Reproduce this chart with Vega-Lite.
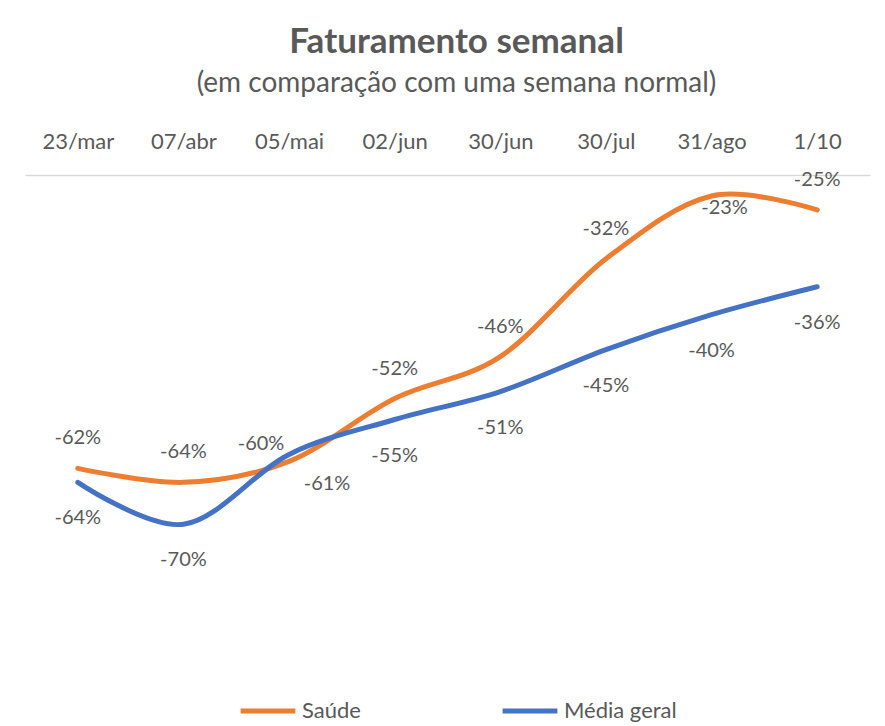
{
  "$schema": "https://vega.github.io/schema/vega-lite/v6.json",
  "width": 845,
  "height": 489,
  "autosize": {"type": "none"},
  "padding": {"left": 25, "top": 175, "right": 15, "bottom": 62},
  "background": "white",
  "config": {
    "view": {"stroke": null},
    "locale": {"number": {"decimal": ",", "thousands": ".", "grouping": [3], "currency": ["R$", ""], "minus": "-", "percent": "%"}}
  },
  "title": {
    "text": "Faturamento semanal",
    "subtitle": "(em comparação com uma semana normal)",
    "font": "Lato",
    "fontSize": 35,
    "fontWeight": "bold",
    "color": "#595959",
    "subtitleFont": "Lato",
    "subtitleFontSize": 28,
    "subtitleColor": "#595959",
    "anchor": "middle",
    "offset": 32,
    "subtitlePadding": 10,
    "dx": 9
  },
  "data": {
    "values": [
      {"semana": "23/mar", "serie": "Saúde", "valor": -0.62},
      {"semana": "07/abr", "serie": "Saúde", "valor": -0.64},
      {"semana": "05/mai", "serie": "Saúde", "valor": -0.61},
      {"semana": "02/jun", "serie": "Saúde", "valor": -0.52},
      {"semana": "30/jun", "serie": "Saúde", "valor": -0.46},
      {"semana": "30/jul", "serie": "Saúde", "valor": -0.32},
      {"semana": "31/ago", "serie": "Saúde", "valor": -0.23},
      {"semana": "1/10", "serie": "Saúde", "valor": -0.25},
      {"semana": "23/mar", "serie": "Média geral", "valor": -0.64},
      {"semana": "07/abr", "serie": "Média geral", "valor": -0.70},
      {"semana": "05/mai", "serie": "Média geral", "valor": -0.60},
      {"semana": "02/jun", "serie": "Média geral", "valor": -0.55},
      {"semana": "30/jun", "serie": "Média geral", "valor": -0.51},
      {"semana": "30/jul", "serie": "Média geral", "valor": -0.45},
      {"semana": "31/ago", "serie": "Média geral", "valor": -0.40},
      {"semana": "1/10", "serie": "Média geral", "valor": -0.36}
    ]
  },
  "encoding": {
    "x": {
      "field": "semana",
      "type": "ordinal",
      "sort": null,
      "scale": {"padding": 0.5},
      "axis": {
        "orient": "top",
        "title": null,
        "labelAngle": 0,
        "ticks": false,
        "grid": false,
        "domainColor": "#d9d9d9",
        "domainWidth": 1.5,
        "labelFont": "Lato",
        "labelFontSize": 22,
        "labelColor": "#595959",
        "labelPadding": 22
      }
    },
    "y": {
      "field": "valor",
      "type": "quantitative",
      "scale": {"domain": [-0.9, -0.2], "nice": false, "zero": false},
      "axis": null
    }
  },
  "layer": [
    {
      "mark": {"type": "line", "interpolate": "cardinal", "strokeWidth": 5, "strokeCap": "round"},
      "encoding": {
        "color": {
          "field": "serie",
          "type": "nominal",
          "scale": {"domain": ["Saúde", "Média geral"], "range": ["#ED7D31", "#4472C4"]},
          "legend": {
            "title": null,
            "orient": "none",
            "direction": "horizontal",
            "legendX": 213,
            "legendY": 506,
            "symbolType": "stroke",
            "symbolStrokeWidth": 5,
            "symbolSize": 3000,
            "labelFont": "Lato",
            "labelFontSize": 22,
            "labelColor": "#595959",
            "labelOffset": 4,
            "columnPadding": 131
          }
        }
      }
    },
    {
      "transform": [{"filter": "datum.serie === 'Saúde' && datum.semana !== '05/mai' && datum.semana !== '31/ago'"}],
      "mark": {"type": "text", "dy": -30, "font": "Lato", "fontSize": 20, "color": "#595959"},
      "encoding": {"text": {"field": "valor", "type": "quantitative", "format": ".0%"}}
    },
    {
      "transform": [{"filter": "datum.serie === 'Saúde' && datum.semana === '05/mai'"}],
      "mark": {"type": "text", "dx": 38, "dy": 23, "font": "Lato", "fontSize": 20, "color": "#595959"},
      "encoding": {"text": {"field": "valor", "type": "quantitative", "format": ".0%"}}
    },
    {
      "transform": [{"filter": "datum.serie === 'Saúde' && datum.semana === '31/ago'"}],
      "mark": {"type": "text", "dx": 13, "dy": 12, "font": "Lato", "fontSize": 20, "color": "#595959"},
      "encoding": {"text": {"field": "valor", "type": "quantitative", "format": ".0%"}}
    },
    {
      "transform": [{"filter": "datum.serie === 'Média geral' && datum.semana !== '05/mai'"}],
      "mark": {"type": "text", "dy": 36, "font": "Lato", "fontSize": 20, "color": "#595959"},
      "encoding": {"text": {"field": "valor", "type": "quantitative", "format": ".0%"}}
    },
    {
      "transform": [{"filter": "datum.serie === 'Média geral' && datum.semana === '05/mai'"}],
      "mark": {"type": "text", "dx": -28, "dy": -10, "font": "Lato", "fontSize": 20, "color": "#595959"},
      "encoding": {"text": {"field": "valor", "type": "quantitative", "format": ".0%"}}
    }
  ]
}
